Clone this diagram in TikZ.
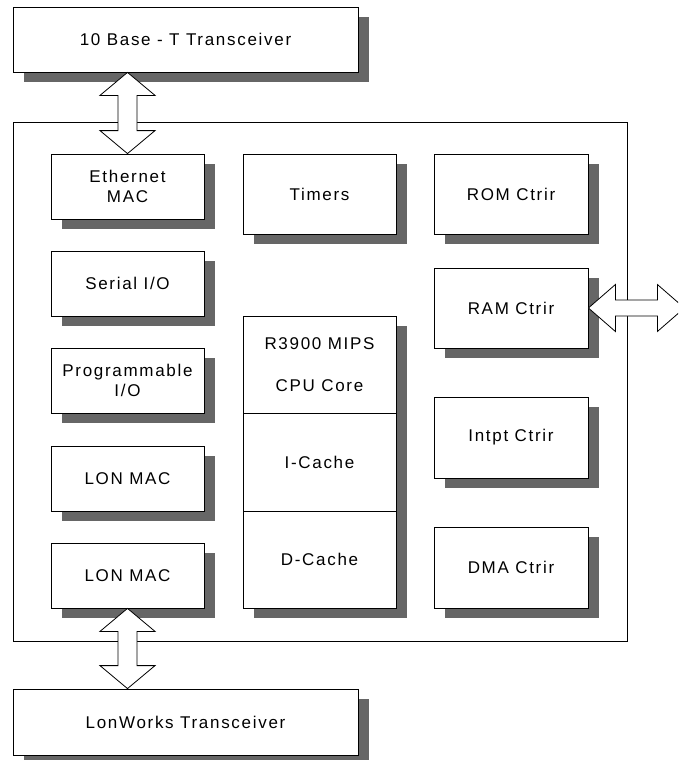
\documentclass[tikz,border=0pt]{standalone}
\usepackage{fontspec}
\setmainfont{Liberation Sans}[LetterSpace=10]
\usetikzlibrary{shadows,calc}

\begin{document}
\begin{tikzpicture}[x=1pt, y=-1pt,
every node/.style={font=\fontsize{17}{20}\selectfont},
blk/.style={draw, fill=white, line width=0.8pt, align=center,
	minimum width=153pt, minimum height=65pt,
	drop shadow={shadow xshift=11pt, shadow yshift=-10pt, fill=black!60, opacity=1}},
bus/.style={draw, fill=white, line width=0.8pt, line join=miter}]
\useasboundingbox (0,0) rectangle (678,760);
\clip (0,0) rectangle (678,760);
% chip
\node[draw, line width=0.8pt, minimum width=614pt, minimum height=519pt] (chip) at (320,381.5) {};
% transceivers
\node[blk, minimum width=345pt] (tenbase) at (185.5,39.5) {10 Base - T Transceiver};
\node[blk, minimum width=345pt, minimum height=66pt] (lonxcvr) at (185.5,722) {LonWorks Transceiver};
% left column
\node[blk] (eth) at (127.5,186.5) {Ethernet\\MAC};
\node[blk] (serial) at (127.5,283.5) {Serial I/O};
\node[blk] (progio) at (127.5,380.5) {Programmable\\I/O};
\node[blk] (lonmac1) at (127.5,478.5) {LON MAC};
\node[blk] (lonmac2) at (127.5,575.5) {LON MAC};
% middle
\node[blk, minimum height=80pt] (timers) at (319.5,194) {Timers};
\node[blk, minimum height=97pt] (core) at (319.5,364.5) {R3900 MIPS\\[22pt]CPU Core};
\node[blk, minimum height=98pt] (icache) at (319.5,462) {I-Cache};
\node[blk, minimum height=97pt] (dcache) at (319.5,559.5) {D-Cache};
% right column
\node[blk, minimum width=154pt, minimum height=80pt] (rom) at (511,194) {ROM Ctrir};
\node[blk, minimum width=154pt, minimum height=80pt] (ram) at (511,308) {RAM Ctrir};
\node[blk, minimum width=154pt, minimum height=81pt] (intpt) at (511,437.5) {Intpt Ctrir};
\node[blk, minimum width=154pt, minimum height=81pt] (dma) at (511,567.5) {DMA Ctrir};
% buses
\coordinate (ethtop) at (eth.north |- tenbase.south);
\coordinate (lonbot) at (lonmac2.south |- lonxcvr.north);
\coordinate (extbus) at ([xshift=96pt]ram.east);
\foreach \a/\b in {ethtop/eth.north, lonmac2.south/lonbot}
	\draw[bus] let \p1=(\a), \p2=(\b) in
		(\x1,\y1) -- (\x1+27.5pt,\y1-23pt) -- (\x1+9.5pt,\y1-23pt) -- (\x1+9.5pt,\y2+23pt)
		-- (\x1+27.5pt,\y2+23pt) -- (\x1,\y2) -- (\x1-27.5pt,\y2+23pt) -- (\x1-9.5pt,\y2+23pt)
		-- (\x1-9.5pt,\y1-23pt) -- (\x1-27.5pt,\y1-23pt) -- cycle;
\draw[bus] let \p1=(ram.east), \p2=(extbus) in
	(\x1,\y1) -- (\x1+27pt,\y1+23.5pt) -- (\x1+27pt,\y1+8pt) -- (\x2-27pt,\y1+8pt)
	-- (\x2-27pt,\y1+23.5pt) -- (\x2,\y1) -- (\x2-27pt,\y1-23.5pt) -- (\x2-27pt,\y1-8pt)
	-- (\x1+27pt,\y1-8pt) -- (\x1+27pt,\y1-23.5pt) -- cycle;
\end{tikzpicture}
\end{document}
